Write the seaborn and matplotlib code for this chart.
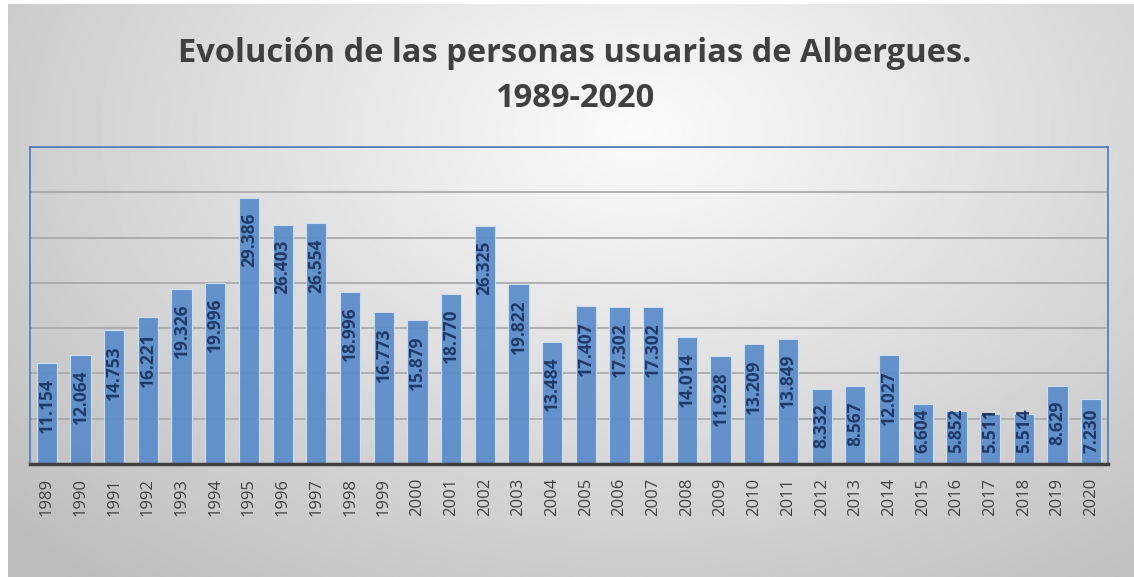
import numpy as np
import matplotlib
matplotlib.use('Agg')
import matplotlib.pyplot as plt
import seaborn as sns

# data
years = [str(y) for y in range(1989, 2021)]
usuarios = [11154, 12064, 14753, 16221, 19326, 19996, 29386, 26403, 26554, 18996,
            16773, 15879, 18770, 26325, 19822, 13484, 17407, 17302, 17302, 14014,
            11928, 13209, 13849, 8332, 8567, 12027, 6604, 5852, 5511, 5514,
            8629, 7230]
titulo = 'Evolución de las personas usuarias de Albergues.\n1989-2020'

sns.set_style('white')
plt.rcParams['font.family'] = ['Open Sans', 'DejaVu Sans']

W, H = 1134, 577
fig = plt.figure(figsize=(W / 100, H / 100), dpi=100, facecolor='white')

# radial gradient background
bg = fig.add_axes([8 / W, 0, 1 - 8 / W, 1 - 4 / H], zorder=0)
yy, xx = np.mgrid[0:1:300j, 0:1:600j]
r = np.sqrt(((xx - 0.56) / 0.75) ** 2 + ((yy - 0.22) / 1.0) ** 2)
g = np.clip(0.985 - 0.24 * r, 0.74, 1.0)
bg.imshow(g, cmap='gray', vmin=0, vmax=1, aspect='auto', extent=[0, 1, 1, 0])
bg.axis('off')

ax = fig.add_axes([30 / W, 1 - 464 / H, (1108 - 30) / W, (464 - 147) / H], zorder=1)
ax.set_facecolor('none')

sns.barplot(x=years, y=usuarios, color='#5a8cca', width=0.6, ax=ax,
            edgecolor='#d3e0f0', linewidth=0.8, saturation=1, alpha=0.93, zorder=2)

ax.set_ylim(0, 35000)
ax.set_xlim(-0.5, len(years) - 0.5)
ax.set_yticks(range(0, 35001, 5000))
ax.set_yticklabels([])
ax.tick_params(axis='y', length=0)
ax.yaxis.grid(True, color='#a6a6a6', linewidth=1.2, zorder=1)
ax.set_axisbelow(True)
ax.tick_params(axis='x', length=0, pad=10, labelsize=12, labelcolor='#404040',
               labelrotation=90)
ax.set_xlabel('')
ax.set_ylabel('')

for s in ['left', 'top', 'right']:
    ax.spines[s].set_color('#4a7bc0')
    ax.spines[s].set_linewidth(1.2)
ax.spines['bottom'].set_color('#404040')
ax.spines['bottom'].set_linewidth(2.5)

# value labels: inside end, but kept above the base when the bar is short
renderer = fig.canvas.get_renderer()
base = ax.transData.transform((0, 0))[1]
for i, v in enumerate(usuarios):
    lab = f'{v:,}'.replace(',', '.')
    t = ax.text(i, v, lab, rotation=90, ha='center', va='top', fontsize=12.5,
                fontweight='bold', color='#1f3a68', zorder=3)
    L = t.get_window_extent(renderer).height
    top = ax.transData.transform((i, v))[1]
    y_top = max(top - 15, base + 11 + L)
    t.set_position((i, ax.transData.inverted().transform((0, y_top))[1]))

fig.text(575 / W, 1 - 76 / H, titulo, ha='center', va='center', fontsize=23.5,
         fontweight='bold', color='#404040', linespacing=1.45, zorder=2)

fig.savefig('out.png', dpi=100)
